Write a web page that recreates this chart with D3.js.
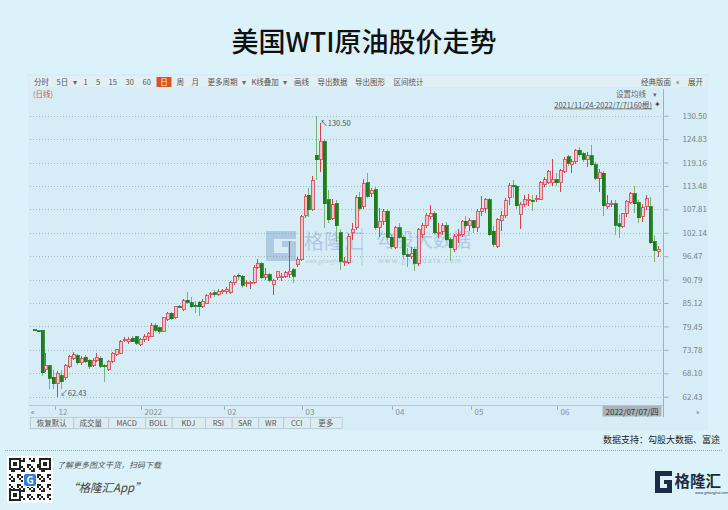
<!DOCTYPE html>
<html><head><meta charset="utf-8">
<script src="https://cdn.jsdelivr.net/npm/d3@7"></script>
<style>body{margin:0;background:#dcf2fb;}svg{display:block}</style>
</head><body><svg id="c" width="728" height="510"></svg>
<script>
// ---- data (daily candles, 2021/11/24 - 2022/7/7, 160 bars) ----
const openP = [78.6,78.4,78.5,69.0,69.9,67.1,65.6,67.5,67.0,69.8,71.8,72.4,70.6,72.0,71.2,70.1,71.3,71.8,69.9,69.0,
71.0,72.6,73.0,76.1,75.8,76.6,76.9,75.0,76.3,76.9,77.0,79.6,79.1,78.3,81.1,82.7,81.5,84.4,83.5,85.8,
85.2,84.6,85.3,84.3,85.1,87.3,87.6,87.2,88.0,87.8,87.7,90.0,91.8,91.6,89.9,89.9,90.1,93.8,94.6,91.3,
92.0,89.6,91.2,91.2,91.6,92.1,93.2,94.4,95.6,106.3,111.2,107.7,120.9,120.0,124.3,110.2,105.7,109.2,102.1,94.9,
95.0,102.1,103.3,110.6,108.5,114.2,111.6,112.6,103.3,104.9,107.3,101.1,98.5,103.3,101.1,96.8,96.5,98.2,94.8,101.7,
103.9,106.1,106.8,102.0,102.5,103.9,100.5,98.0,101.4,101.7,104.9,103.9,105.0,103.3,107.3,108.1,110.2,102.5,98.8,105.1,
106.3,110.6,113.5,113.4,106.6,109.0,110.0,110.0,110.3,110.3,113.8,114.3,114.3,115.0,114.3,117.0,120.5,118.6,119.4,122.1,
121.3,119.9,120.8,118.6,115.4,116.6,108.5,109.2,109.2,104.3,103.6,106.9,109.5,111.6,109.4,106.0,108.4,108.5,100.0,97.5];
const highP = [78.8,78.5,78.6,72.9,70.2,68.8,68.6,68.9,70.3,72.6,73.2,72.8,72.2,72.6,71.6,71.8,72.9,72.2,70.3,71.4,
73.3,74.0,76.1,76.9,76.9,77.1,77.2,76.6,77.5,78.2,80.2,80.3,79.4,81.7,83.0,83.0,84.5,84.6,86.0,87.9,
86.6,85.5,85.6,86.0,87.4,87.9,88.2,88.6,88.6,89.0,90.4,92.0,92.3,91.8,90.6,90.5,94.3,95.8,95.0,93.7,
92.4,91.0,93.0,92.5,93.0,100.05,93.6,96.2,106.5,111.5,113.0,116.0,130.5,128.8,124.9,112.6,110.3,110.0,103.0,96.2,
101.8,104.5,111.2,112.0,115.2,116.6,113.0,113.2,108.1,108.0,107.8,101.8,103.8,104.5,101.6,98.5,98.6,98.6,103.4,104.6,
107.0,108.8,107.3,104.4,104.6,104.8,101.0,101.8,103.0,105.3,106.3,105.8,105.3,108.0,111.0,110.6,110.5,103.9,105.8,107.3,
110.5,114.3,115.0,113.7,109.5,111.2,111.5,111.4,111.2,114.6,115.6,117.4,119.98,116.5,117.5,120.4,121.0,120.0,122.5,123.0,
121.8,121.7,123.5,119.4,117.5,117.0,111.2,110.0,110.0,106.6,107.0,110.0,112.0,113.5,110.0,109.0,111.2,110.8,101.5,99.0];
const lowP = [78.3,78.1,67.4,68.3,64.4,64.4,62.43,64.3,66.4,69.4,71.2,70.2,70.1,70.6,69.2,69.6,70.9,69.5,66.1,68.6,
70.6,72.3,72.8,75.6,75.2,75.6,74.9,74.6,75.8,76.0,76.8,78.0,77.6,78.1,80.8,81.0,81.3,83.9,83.3,85.0,
83.9,82.8,81.9,83.8,84.9,86.4,86.5,86.9,87.3,87.4,87.4,89.6,90.8,88.8,89.0,88.4,89.8,93.3,90.9,90.6,
90.2,87.1,90.8,90.4,91.2,91.3,89.9,93.9,95.3,105.8,106.0,107.3,115.0,116.8,103.4,104.4,105.3,99.8,93.2,94.2,
94.6,100.5,102.9,107.5,108.0,110.5,110.8,102.8,101.0,104.0,100.5,98.2,98.2,100.6,95.8,93.9,95.8,93.0,94.0,100.8,
103.4,105.4,101.8,100.9,101.6,100.1,95.2,97.4,99.6,101.2,103.1,102.5,102.0,102.4,106.3,107.0,101.4,98.7,98.4,102.5,
105.6,108.9,110.5,108.0,103.1,108.4,108.7,107.3,109.5,110.0,113.3,114.0,113.5,113.5,112.0,116.6,118.2,116.6,118.8,120.5,
119.3,118.0,118.2,115.0,111.9,106.1,108.0,108.4,101.7,100.8,103.3,106.0,109.2,107.0,104.5,104.8,107.6,99.5,95.0,96.2];
const closeP = [78.5,78.3,68.2,69.9,66.9,65.6,68.0,66.1,69.9,72.2,72.6,70.6,71.8,70.9,69.8,71.3,72.0,69.8,69.7,71.0,
73.0,73.8,75.8,76.2,76.4,75.8,75.4,76.3,77.0,77.8,79.6,78.5,78.3,81.5,82.7,81.3,84.3,84.3,85.7,85.3,
84.2,84.5,84.2,85.6,86.9,87.4,87.2,88.0,88.1,88.4,90.1,91.6,91.7,89.4,90.0,90.1,93.8,94.6,91.3,92.0,
90.6,90.6,92.8,91.6,92.4,92.8,91.6,95.6,106.0,111.0,107.7,114.8,119.8,124.3,109.2,105.3,108.9,103.9,95.2,95.1,
101.3,103.0,110.6,108.1,114.0,111.0,112.4,103.3,104.9,107.3,101.1,98.8,103.3,101.1,96.8,96.4,97.0,94.8,102.9,103.9,
106.3,106.8,102.1,102.3,103.9,100.5,98.5,101.3,101.7,104.9,103.9,105.0,103.3,107.3,108.1,110.2,101.7,99.3,105.3,106.3,
109.9,113.5,113.3,108.7,109.0,110.2,110.3,109.8,110.5,114.2,115.0,117.0,115.0,114.3,117.2,120.0,119.0,119.4,122.1,121.1,
120.0,120.8,118.6,115.4,116.8,108.7,109.2,109.3,104.0,103.7,106.8,109.7,111.6,109.2,105.8,108.2,110.4,99.7,97.9,98.2];
const xTickLabels = ["12","2022","02","03","04","05","06"];
const xTickBars   = [5,27,48,68,91,111,133];
const yTickValues = [130.50,124.83,119.16,113.48,107.81,102.14,96.47,90.79,85.12,79.45,73.78,68.10,62.43];
const toolbarItems = ["分时","5日","▾","1","5","15","30","60","日","周","月","更多周期","▾","K线叠加","▾","画线","导出数据","导出图形","区间统计"];
const tabItems = ["恢复默认","成交量","MACD","BOLL","KDJ","RSI","SAR","WR","CCI","更多"];

const bars = openP.map((o,i)=>({i,o,h:highP[i],l:lowP[i],c:closeP[i]}));
const svg = d3.select("#c");
const FONT = "'Noto Sans CJK SC','Noto Sans',sans-serif";
svg.style("font-family", FONT);

// page background
svg.append("rect").attr("width",728).attr("height",510).attr("fill","#dcf2fb");
// title
svg.append("text").attr("x",364).attr("y",52).attr("text-anchor","middle")
  .attr("font-size",27).attr("font-weight",500).attr("fill","#111").text("美国WTI原油股价走势");

// widget
svg.append("rect").attr("x",28).attr("y",74).attr("width",680).attr("height",356).attr("fill","#d6ecf6");
svg.append("rect").attr("x",29).attr("y",76).attr("width",678).attr("height",11).attr("fill","#e2eff5");

// toolbar
const tbX = [34,56.5,73,83.5,96,108.5,125.5,142.5,159.5,176.5,191.5,207.5,242,251.5,283,294,317.5,355,393.5];
const tb = svg.append("g").attr("font-size",7.5).attr("fill","#555");
toolbarItems.forEach((t,k)=>{
  if(t==="日"){
    tb.append("rect").attr("x",156.5).attr("y",77).attr("width",15).attr("height",10).attr("fill","#d9541e");
    tb.append("text").attr("x",164).attr("y",85).attr("text-anchor","middle").attr("fill","#fff").text(t);
  } else {
    tb.append("text").attr("x",tbX[k]).attr("y",85).attr("fill",t==="▾"?"#666":"#555").text(t);
  }
});
tb.append("text").attr("x",641).attr("y",85).text("经典版面");
tb.append("text").attr("x",676).attr("y",85).text("«");
tb.append("text").attr("x",688).attr("y",85).text("展开");
svg.append("text").attr("x",33).attr("y",97).attr("font-size",7.5).attr("fill","#c8603c").text("(日线)");
svg.append("text").attr("x",646).attr("y",97).attr("text-anchor","end").attr("font-size",7.5).attr("fill","#666").text("设置均线");
svg.append("text").attr("x",653).attr("y",97).attr("font-size",7).attr("fill","#666").text("▾");
svg.append("text").attr("x",652).attr("y",107.5).attr("text-anchor","end").attr("font-size",7.5).attr("fill","#555")
  .attr("text-decoration","underline").text("2021/11/24-2022/7/7(160根)");
svg.append("text").attr("x",654).attr("y",107).attr("font-size",8).attr("fill","#444").text("✦");

// scales
const x = d3.scaleBand().domain(d3.range(bars.length)).range([31.3,660.2]).padding(0.22);
const xc = i => x(i) + x.bandwidth()/2;
const y = d3.scaleLinear().domain([62.43,130.50]).range([396.7,115.7]);

// grid
svg.append("g").selectAll("line").data(yTickValues).join("line")
  .attr("x1",30).attr("x2",663).attr("y1",d=>Math.round(y(d))+0.5).attr("y2",d=>Math.round(y(d))+0.5)
  .attr("stroke","#aab9c2").attr("stroke-dasharray","1,2");

// right axis
const yAxis = d3.axisRight(y).tickValues(yTickValues).tickFormat(d3.format(".2f")).tickSize(5).tickPadding(14);
const ya = svg.append("g").attr("transform","translate(663.5,0)").call(yAxis);
ya.select(".domain").attr("d","M0,89V417").attr("stroke","#9fb0ba");
ya.selectAll(".tick line").attr("stroke","#9fb0ba");
ya.selectAll(".tick text").attr("font-size",8).attr("fill","#7a8388").attr("font-family",FONT);

// watermark
const wm = svg.append("g").attr("opacity",0.32);
wm.append("path").attr("d","M266,231h30v8h-22v14h14v-6h-6v-6h14v20h-30z").attr("fill","#5b86b8");
wm.append("text").attr("x",304).attr("y",249).attr("font-size",20).attr("fill","#5b86b8").text("格隆汇");
wm.append("text").attr("x",305).attr("y",263).attr("font-size",5).attr("fill","#5b86b8").text("www.gelonghui.com");
wm.append("line").attr("x1",362).attr("x2",362).attr("y1",228).attr("y2",266).attr("stroke","#5b86b8");
wm.append("text").attr("x",376).attr("y",247).attr("font-size",19).attr("fill","#5b86b8").text("勾股大数据");
wm.append("text").attr("x",378).attr("y",263).attr("font-size",7).attr("letter-spacing",1.2).attr("fill","#5b86b8").text("www.gogudata.com");

// candles
const up = d => d.c >= d.o && !(d.i<2);
const g = svg.append("g").attr("shape-rendering","crispEdges");
g.selectAll("line.w").data(bars).join("line").attr("class","w")
  .attr("x1",d=>Math.round(xc(d.i))+0.5).attr("x2",d=>Math.round(xc(d.i))+0.5)
  .attr("y1",d=>y(d.h)).attr("y2",d=>y(d.l))
  .attr("stroke",d=>up(d)?"#d8434b":"#72b872");
g.selectAll("rect.b").data(bars).join("rect").attr("class","b")
  .attr("x",d=>Math.round(xc(d.i))-1)
  .attr("width",3)
  .attr("y",d=>y(Math.max(d.o,d.c)))
  .attr("height",d=>Math.max(1,Math.abs(y(d.o)-y(d.c))))
  .attr("fill",d=>up(d)?"#ecc6cc":"#1f7d1f")
  .attr("stroke",d=>up(d)?"#d8434b":"#1f7d1f").attr("stroke-width",0.8);

// extremes labels
const iMax = d3.maxIndex(bars,d=>d.h), iMin = d3.minIndex(bars,d=>d.l);
svg.append("text").attr("x",xc(iMax)+4).attr("y",y(bars[iMax].h)+10).attr("font-size",7.5).attr("fill","#555")
  .text("↖"+d3.format(".2f")(bars[iMax].h));
svg.append("text").attr("x",xc(iMin)+3).attr("y",y(bars[iMin].l)-1).attr("font-size",7.5).attr("fill","#555")
  .text("↙"+d3.format(".2f")(bars[iMin].l));

// x-axis strip
svg.append("line").attr("x1",29).attr("x2",663).attr("y1",405.5).attr("y2",405.5).attr("stroke","#b8c7cf");
svg.append("text").attr("x",31).attr("y",414).attr("font-size",7).attr("fill","#666").text("«");
svg.append("text").attr("x",696).attr("y",414).attr("font-size",7).attr("fill","#666").text("»");
const xt = svg.append("g");
xTickBars.forEach((b,k)=>{
  const px = Math.round(xc(b)+1.5)+0.5;
  xt.append("line").attr("x1",px).attr("x2",px).attr("y1",406).attr("y2",410).attr("stroke","#aab");
  xt.append("text").attr("x",px+3).attr("y",414.5).attr("font-size",8).attr("fill","#8a9095").text(xTickLabels[k]);
});
svg.append("rect").attr("x",602.5).attr("y",406).attr("width",59).attr("height",10.5).attr("fill","#a9b4ba");
svg.append("text").attr("x",632).attr("y",414.5).attr("text-anchor","middle").attr("font-size",8).attr("fill","#333").text("2022/07/07/四");

// tabs
const tabEdges = [30,73.3,108.3,145,171.7,205,231.7,258.3,283.3,310,341.7];
const tabs = svg.append("g");
tabItems.forEach((t,k)=>{
  tabs.append("rect").attr("x",tabEdges[k]+0.5).attr("y",417.5).attr("width",tabEdges[k+1]-tabEdges[k]).attr("height",11)
    .attr("fill","#dcecf3").attr("stroke","#b5c6cf").attr("stroke-width",0.8);
  tabs.append("text").attr("x",(tabEdges[k]+tabEdges[k+1])/2).attr("y",426).attr("text-anchor","middle")
    .attr("font-size",7.5).attr("fill","#555").text(t);
});

// footer
svg.append("text").attr("x",720).attr("y",443).attr("text-anchor","end").attr("font-size",9).attr("fill","#222").text("数据支持：勾股大数据、富途");
svg.append("line").attr("x1",5).attr("x2",723).attr("y1",450.5).attr("y2",450.5).attr("stroke","#9aa").attr("stroke-dasharray","1,1");
// QR
const qr = svg.append("g").attr("transform","translate(7,456)");
qr.append("rect").attr("width",46).attr("height",47).attr("fill","#fff");
const cells=[];
for(let r=0;r<21;r++)for(let c=0;c<21;c++){ if(((r*7+c*13+r*c)%5)<2) cells.push([r,c]); }
qr.selectAll("rect.q").data(cells).join("rect").attr("class","q").attr("x",d=>2+d[1]*2).attr("y",d=>2+d[0]*2).attr("width",2).attr("height",2).attr("fill","#222");
[[2,2],[32,2],[2,33]].forEach(p=>{
  qr.append("rect").attr("x",p[0]).attr("y",p[1]).attr("width",12).attr("height",12).attr("fill","#fff");
  qr.append("rect").attr("x",p[0]+1).attr("y",p[1]+1).attr("width",10).attr("height",10).attr("fill","none").attr("stroke","#222").attr("stroke-width",2);
  qr.append("rect").attr("x",p[0]+4).attr("y",p[1]+4).attr("width",4).attr("height",4).attr("fill","#222");
});
qr.append("rect").attr("x",16).attr("y",17).attr("width",14).attr("height",14).attr("fill","#fff");
qr.append("rect").attr("x",17).attr("y",18).attr("width",12).attr("height",12).attr("rx",2).attr("fill","#2f7de1");
qr.append("text").attr("x",23).attr("y",28).attr("text-anchor","middle").attr("font-size",10).attr("font-weight",700).attr("fill","#fff").text("G");
svg.append("text").attr("x",57).attr("y",468).attr("font-size",8).attr("font-style","italic").attr("fill","#555").text("了解更多图文干货，扫码下载");
svg.append("text").attr("x",67).attr("y",492).attr("font-size",11.5).attr("font-style","italic").attr("fill","#444").text("“格隆汇App”");
// logo
const lg = svg.append("g").attr("transform","translate(655,471)");
lg.append("path").attr("d","M0,0h17v5h-12v12h7v-4h-3v-4h8v13h-17z").attr("fill","#1d2b45");
lg.append("text").attr("x",19.5).attr("y",16).attr("font-size",15.5).attr("font-weight",700).attr("fill","#1d2b45").text("格隆汇");
lg.append("text").attr("x",40).attr("y",23).attr("font-size",3.5).attr("fill","#1d2b45").text("www.gelonghui.com");
</script></body></html>
